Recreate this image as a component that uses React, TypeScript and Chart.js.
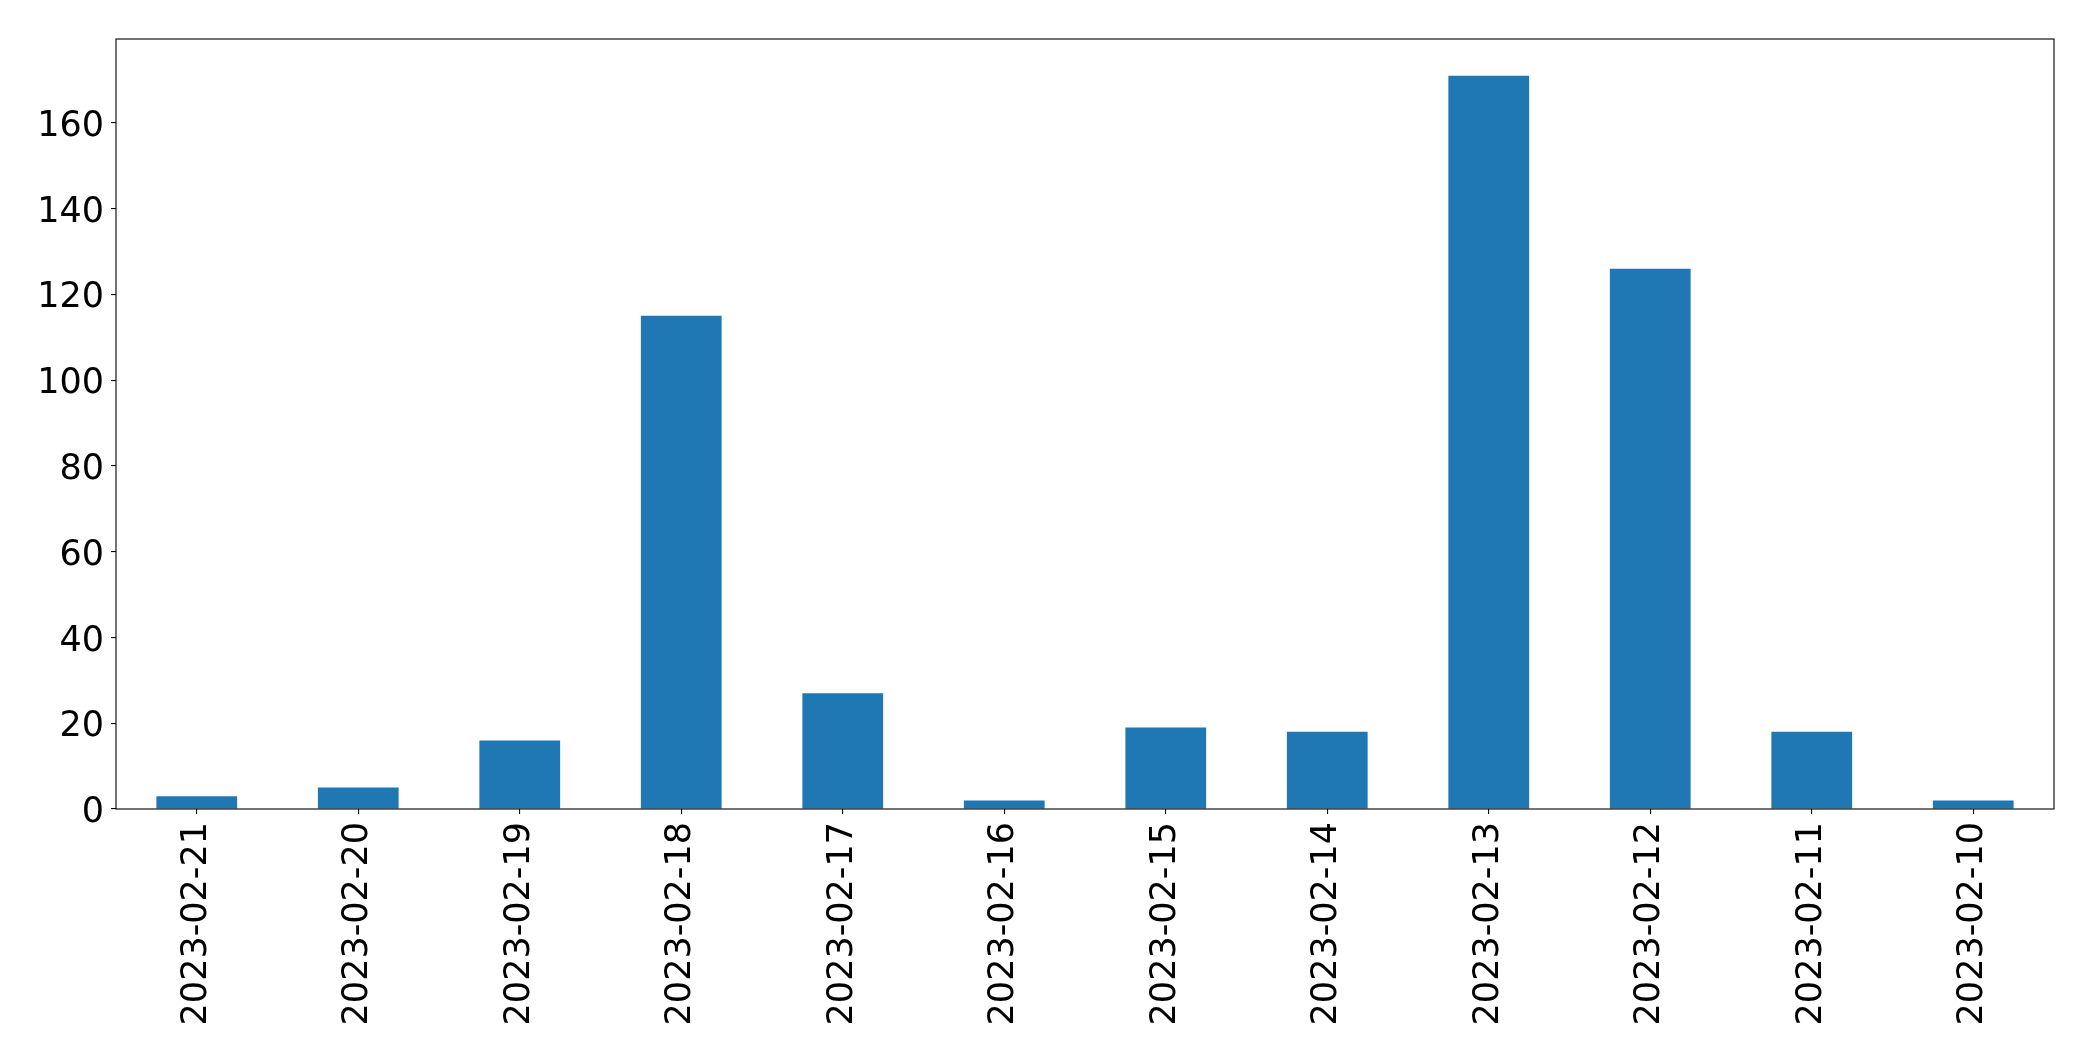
import React, { useEffect, useRef } from "react";
import { Chart, registerables } from "chart.js";

Chart.register(...registerables);

const categories = [
  "2023-02-21", "2023-02-20", "2023-02-19", "2023-02-18", "2023-02-17", "2023-02-16",
  "2023-02-15", "2023-02-14", "2023-02-13", "2023-02-12", "2023-02-11", "2023-02-10",
];
const counts = [3, 5, 16, 115, 27, 2, 19, 18, 171, 126, 18, 2];
const yMax = 179.55;
const yStep = 20;

const framePlugin = {
  id: "frame",
  afterDraw(chart: any) {
    const { ctx, chartArea } = chart;
    ctx.save();
    ctx.strokeStyle = "#000";
    ctx.lineWidth = 1.1;
    ctx.strokeRect(chartArea.left, chartArea.top, chartArea.right - chartArea.left, chartArea.bottom - chartArea.top);
    ctx.restore();
  },
};

export default function App() {
  const ref = useRef<HTMLCanvasElement | null>(null);
  useEffect(() => {
    document.body.style.margin = "0";
    const font = { family: "'DejaVu Sans'", size: 35 };
    const chart = new Chart(ref.current as HTMLCanvasElement, {
      type: "bar",
      data: {
        labels: categories,
        datasets: [
          {
            data: counts,
            backgroundColor: "#1f77b4",
            barPercentage: 0.5,
            categoryPercentage: 1.0,
          },
        ],
      },
      options: {
        animation: false,
        responsive: false,
        devicePixelRatio: 1,
        layout: { padding: { top: 39, right: 39, left: 0, bottom: 0 } },
        plugins: { legend: { display: false }, tooltip: { enabled: false } },
        scales: {
          x: {
            offset: true,
            grid: { display: true, drawOnChartArea: false, offset: false, tickLength: 5, color: "#000", lineWidth: 1.1 },
            border: { display: false },
            ticks: { font, color: "#000", minRotation: 90, maxRotation: 90, padding: 8, autoSkip: false },
            afterFit: (scale: any) => { scale.height = 252; },
          },
          y: {
            min: 0,
            max: yMax,
            grid: { display: true, drawOnChartArea: false, tickLength: 5, color: "#000", lineWidth: 1.1 },
            border: { display: false },
            ticks: { font, color: "#000", stepSize: yStep, padding: 7, labelOffset: 4 },
            afterBuildTicks: (scale: any) => {
              scale.ticks = scale.ticks.filter((t: any) => Math.abs(t.value % yStep) < 1e-6);
            },
            afterFit: (scale: any) => { scale.width = 116; },
          },
        },
      },
      plugins: [framePlugin],
    });
    return () => chart.destroy();
  }, []);
  return (
    <div style={{ position: "fixed", left: 0, top: 0, width: 2093, height: 1061, background: "#fff" }}>
      <canvas ref={ref} width={2093} height={1061} style={{ width: 2093, height: 1061 }} />
    </div>
  );
}
